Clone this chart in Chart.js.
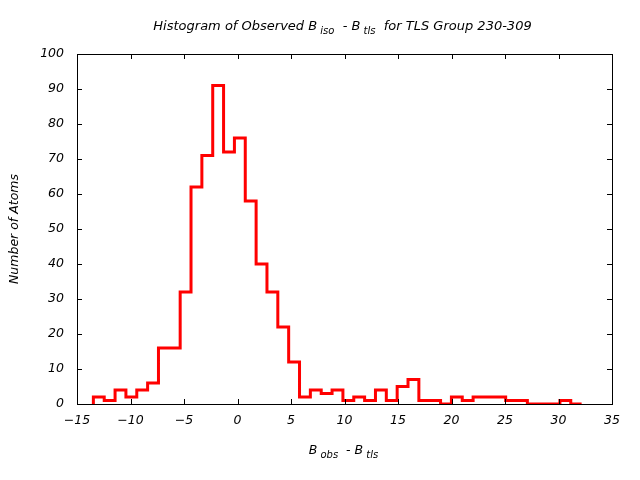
<!DOCTYPE html>
<html>
<head>
<meta charset="utf-8">
<script src="https://cdn.jsdelivr.net/npm/chart.js@4/dist/chart.umd.min.js"></script>
<style>
html,body{margin:0;padding:0;background:#fff;}
#wrap{width:640px;height:480px;position:relative;}
</style>
</head>
<body>
<div id="wrap"><canvas id="c" width="640" height="480"></canvas></div>
<script>
// Histogram bins
const binStart = -13.47;
const binWidth = 1.014;
const counts = [2,1,4,2,4,6,16,16,32,62,71,91,72,76,58,40,32,22,12,2,4,3,4,1,2,1,4,1,5,7,1,1,0,2,1,2,2,2,1,1,0,0,0,1,0];
const xTicks = [-15,-10,-5,0,5,10,15,20,25,30,35];
const yTicks = [0,10,20,30,40,50,60,70,80,90,100];
const titleParts = [["Histogram of Observed B",false],[" iso",true],["  - B",false],[" tls",true],["  for TLS Group 230-309",false]];
const xLabelParts = [["B",false],[" obs",true],["  - B",false],[" tls",true]];
const yLabel = "Number of Atoms";

// Build stepped outline from bins: each bin's value holds from its left edge to its right edge
const pts = [];
pts.push({x: binStart, y: 0});
counts.forEach((v, i) => pts.push({x: binStart + i * binWidth, y: v}));
pts.push({x: binStart + counts.length * binWidth, y: counts[counts.length - 1]});
pts.push({x: binStart + counts.length * binWidth, y: 0});

const FONT = "'DejaVu Sans', sans-serif";

function drawRich(ctx, parts, cx, cy, size, subSize) {
  ctx.save();
  ctx.textBaseline = 'middle';
  ctx.fillStyle = '#000';
  let total = 0;
  const widths = parts.map(([t, sub]) => {
    ctx.font = 'italic ' + (sub ? subSize : size) + 'px ' + FONT;
    const w = ctx.measureText(t).width; total += w; return w;
  });
  let x = cx - total / 2;
  parts.forEach(([t, sub], i) => {
    ctx.font = 'italic ' + (sub ? subSize : size) + 'px ' + FONT;
    ctx.textAlign = 'left';
    ctx.fillText(t, x, cy + (sub ? 4 : 0));
    x += widths[i];
  });
  ctx.restore();
}

const framePlugin = {
  id: 'frame',
  afterDatasetsDraw(chart) {
    const {ctx, chartArea: a, scales} = chart;
    ctx.save();
    ctx.strokeStyle = '#000';
    ctx.lineWidth = 1;
    ctx.strokeRect(Math.round(a.left) + 0.5, Math.round(a.top) + 0.5, Math.round(a.right - a.left), Math.round(a.bottom - a.top));
    const L = 5;
    ctx.beginPath();
    xTicks.forEach(t => {
      const px = Math.round(scales.x.getPixelForValue(t)) + 0.5;
      ctx.moveTo(px, a.bottom); ctx.lineTo(px, a.bottom - L);
      ctx.moveTo(px, a.top); ctx.lineTo(px, a.top + L);
    });
    yTicks.forEach(t => {
      const py = Math.round(scales.y.getPixelForValue(t)) + 0.5;
      ctx.moveTo(a.left, py); ctx.lineTo(a.left + L, py);
      ctx.moveTo(a.right, py); ctx.lineTo(a.right - L, py);
    });
    ctx.stroke();
    ctx.restore();
  },
  afterDraw(chart) {
    const a = chart.chartArea;
    const cx = (a.left + a.right) / 2;
    drawRich(chart.ctx, titleParts, cx - 2, 27, 13, 10);
    drawRich(chart.ctx, xLabelParts, cx - 1, 451, 12.5, 10);
  }
};

new Chart(document.getElementById('c'), {
  type: 'line',
  data: {
    datasets: [{
      data: pts,
      stepped: 'before',
      borderColor: '#ff0000',
      borderWidth: 3,
      pointRadius: 0,
      fill: false,
      tension: 0
    }]
  },
  options: {
    responsive: false,
    animation: false,
    events: [],
    layout: {padding: {left: 0, right: 28, top: 54, bottom: 0}},
    plugins: {legend: {display: false}, title: {display: false}, tooltip: {enabled: false}},
    scales: {
      x: {
        type: 'linear', min: -15, max: 35,
        afterBuildTicks: s => { s.ticks = xTicks.map(v => ({value: v})); },
        afterFit: s => { s.height = 76; },
        grid: {display: false, drawTicks: false},
        border: {display: false},
        ticks: {padding: 9, color: '#000', font: {family: FONT, size: 12.5, style: 'italic'}, maxRotation: 0, autoSkip: false,
                callback: v => String(v).replace('-', '\u2212')}
      },
      y: {
        type: 'linear', min: 0, max: 100,
        afterBuildTicks: s => { s.ticks = yTicks.map(v => ({value: v})); },
        afterFit: s => { s.width = 77; },
        grid: {display: false, drawTicks: false},
        border: {display: false},
        ticks: {padding: 13, color: '#000', font: {family: FONT, size: 12.5, style: 'italic'}, autoSkip: false},
        title: {display: true, text: yLabel, color: '#000', font: {family: FONT, size: 12.5, style: 'italic'}, padding: {top: 7, bottom: 0}}
      }
    }
  },
  plugins: [framePlugin]
});
</script>
</body>
</html>
